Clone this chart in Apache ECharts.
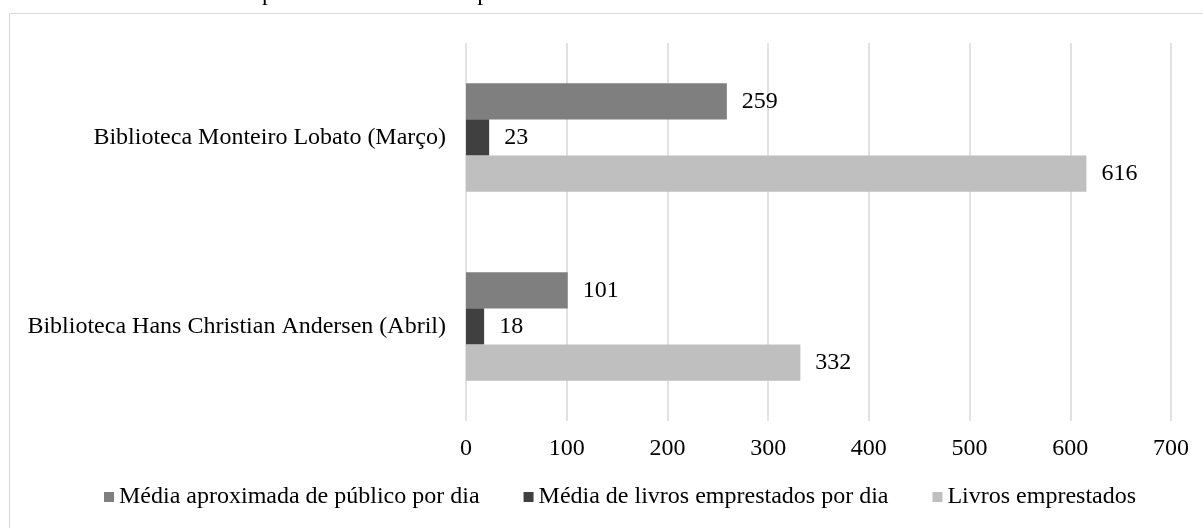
<!DOCTYPE html>
<html>
<head>
<meta charset="utf-8">
<script src="https://cdn.jsdelivr.net/npm/echarts@6/dist/echarts.min.js"></script>
<style>
  html, body { margin: 0; padding: 0; background: #fff; }
  #chart { width: 1203px; height: 528px; }
</style>
</head>
<body>
<div id="chart"></div>
<script>
// data
const categories = [
  "Biblioteca Monteiro Lobato (Março)",
  "Biblioteca Hans Christian Andersen (Abril)",
];
const seriesNames = [
  "Média aproximada de público por dia",
  "Média de livros emprestados por dia",
  "Livros emprestados",
];
const publicoPorDia = [259, 101];
const livrosPorDia = [23, 18];
const livrosEmprestados = [616, 332];
const xTicks = [0, 100, 200, 300, 400, 500, 600, 700];

const colors = ["#7f7f7f", "#404040", "#bfbfbf"];
const font = "'Liberation Serif', 'Times New Roman', Times, serif";

const chart = echarts.init(document.getElementById("chart"));

function makeSeries(name, data, color) {
  return {
    name: name,
    type: "bar",
    data: data,
    barGap: "0%",
    barCategoryGap: "42.5%",
    itemStyle: { color: color },
    label: {
      show: true,
      position: "right",
      distance: 15,
      color: "#000",
      fontFamily: font,
      fontSize: 24,
    },
  };
}

const options = {
  backgroundColor: "#fff",
  animation: false,
  textStyle: { fontFamily: font },
  title: {
    text: "Comparativo de Livros Emprestados e Número de Pessoas nas duas bibliotecas",
    left: 591,
    textAlign: "center",
    top: -23,
    textStyle: { fontFamily: font, fontSize: 24, fontWeight: "normal", color: "#000" },
  },
  graphic: [
    {
      type: "rect",
      shape: { x: 9.5, y: 13.5, width: 1200, height: 520 },
      style: { fill: null, stroke: "#d9d9d9", lineWidth: 1 },
      silent: true,
    },
  ],
  legend: {
    data: seriesNames,
    top: 485,
    left: 104,
    padding: 0,
    itemWidth: 10,
    itemHeight: 10,
    itemGap: 44,
    icon: "rect",
    textStyle: { fontFamily: font, fontSize: 24, color: "#000" },
  },
  grid: {
    left: 466,
    right: 32,
    top: 43,
    bottom: 107,
  },
  xAxis: {
    type: "value",
    min: xTicks[0],
    max: xTicks[xTicks.length - 1],
    interval: 100,
    axisLine: { show: false },
    axisTick: { show: false },
    axisLabel: { color: "#000", fontFamily: font, fontSize: 24, margin: 16 },
    splitLine: { lineStyle: { color: "#d9d9d9", width: 1.5 } },
  },
  yAxis: {
    type: "category",
    inverse: true,
    data: categories,
    axisLine: { show: false },
    axisTick: { show: false },
    axisLabel: { color: "#000", fontFamily: font, fontSize: 24, margin: 20 },
  },
  series: [
    makeSeries(seriesNames[0], publicoPorDia, colors[0]),
    makeSeries(seriesNames[1], livrosPorDia, colors[1]),
    makeSeries(seriesNames[2], livrosEmprestados, colors[2]),
  ],
};

chart.setOption(options);
</script>
</body>
</html>
